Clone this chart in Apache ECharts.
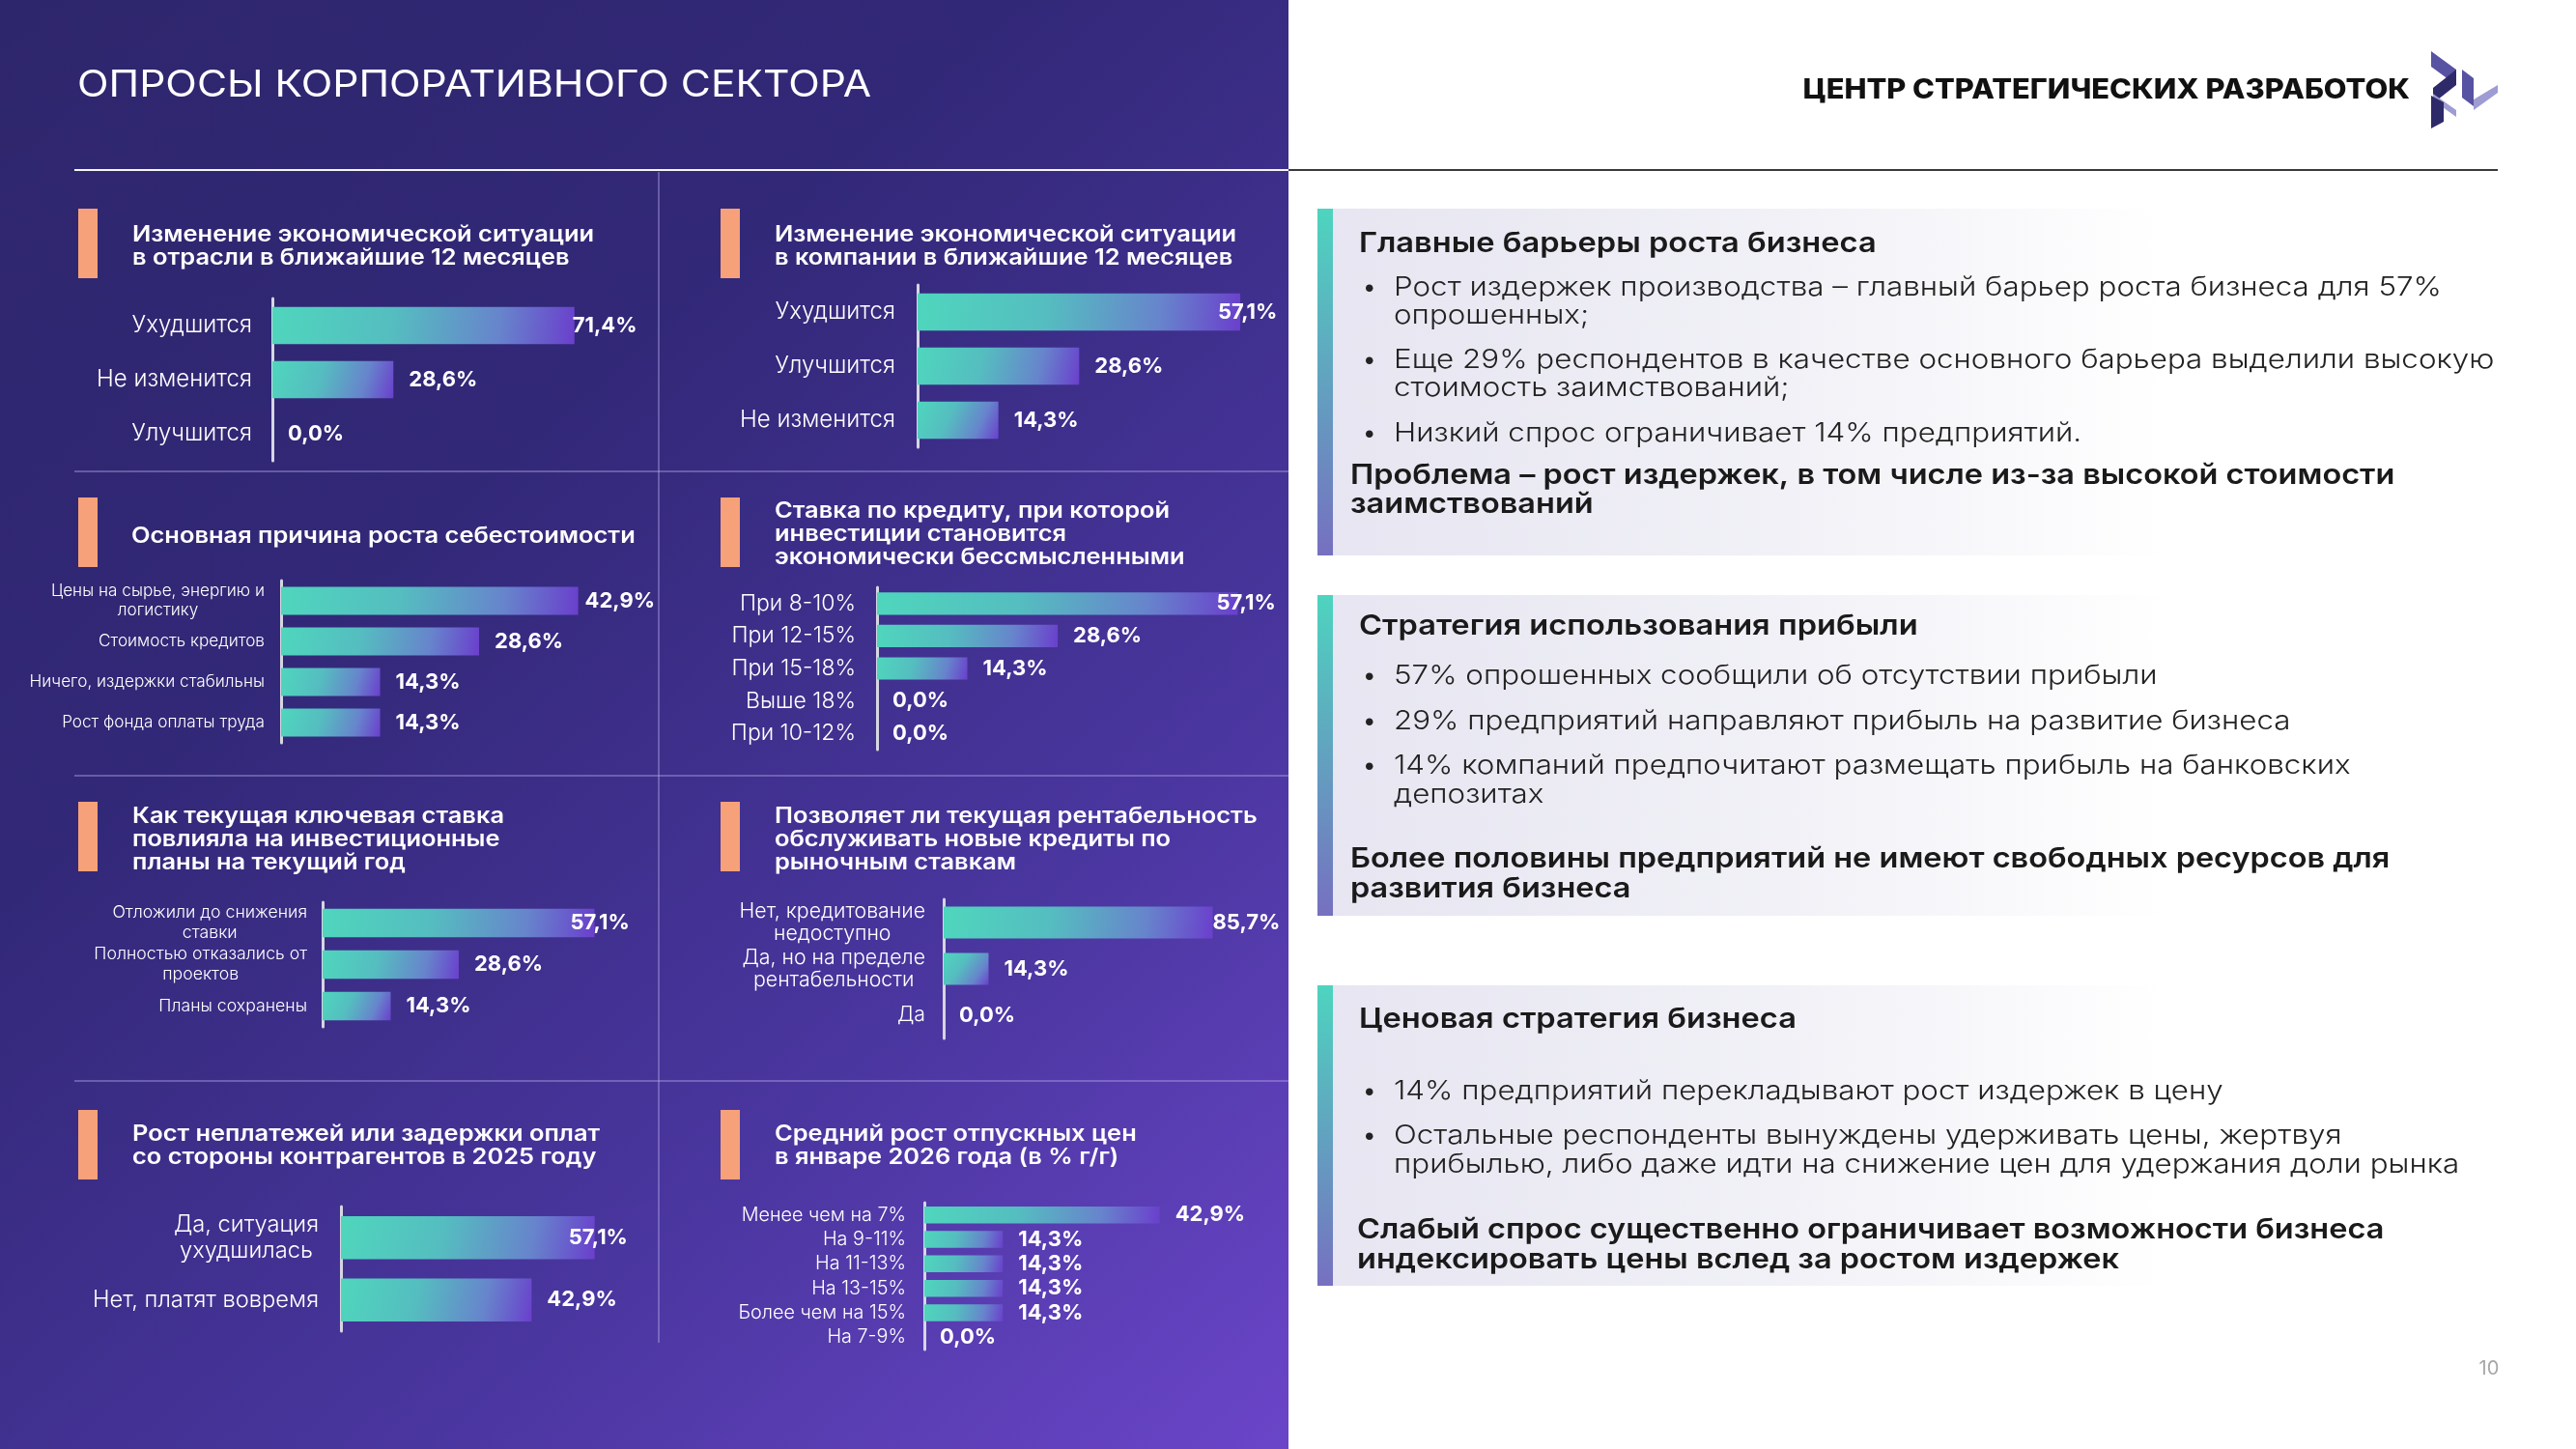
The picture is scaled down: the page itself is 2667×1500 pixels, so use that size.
<!DOCTYPE html>
<html><head><meta charset="utf-8">
<script src="https://cdn.jsdelivr.net/npm/echarts@6/dist/echarts.min.js"></script>
<style>html,body{margin:0;padding:0;background:#fff}#c{width:2667px;height:1500px}</style>
</head><body><div id="c"></div>
<script>
// ---------------- DATA ----------------
const pageTitle = 'ОПРОСЫ КОРПОРАТИВНОГО СЕКТОРА';
const brandName = 'ЦЕНТР СТРАТЕГИЧЕСКИХ РАЗРАБОТОК';
const pageNumber = '10';

const chart1Title = ['Изменение экономической ситуации', 'в отрасли в ближайшие 12 месяцев'];
const chart1Cats = ['Ухудшится', 'Не изменится', 'Улучшится'];
const chart1Vals = [71.4, 28.6, 0.0];

const chart2Title = ['Изменение экономической ситуации', 'в компании в ближайшие 12 месяцев'];
const chart2Cats = ['Ухудшится', 'Улучшится', 'Не изменится'];
const chart2Vals = [57.1, 28.6, 14.3];

const chart3Title = ['Основная причина роста себестоимости'];
const chart3Cats = ['Цены на сырье, энергию и\nлогистику', 'Стоимость кредитов', 'Ничего, издержки стабильны', 'Рост фонда оплаты труда'];
const chart3Vals = [42.9, 28.6, 14.3, 14.3];

const chart4Title = ['Ставка по кредиту, при которой', 'инвестиции становится', 'экономически бессмысленными'];
const chart4Cats = ['При 8-10%', 'При 12-15%', 'При 15-18%', 'Выше 18%', 'При 10-12%'];
const chart4Vals = [57.1, 28.6, 14.3, 0.0, 0.0];

const chart5Title = ['Как текущая ключевая ставка', 'повлияла на инвестиционные', 'планы на текущий год'];
const chart5Cats = ['Отложили до снижения\nставки', 'Полностью отказались от\nпроектов', 'Планы сохранены'];
const chart5Vals = [57.1, 28.6, 14.3];

const chart6Title = ['Позволяет ли текущая рентабельность', 'обслуживать новые кредиты по', 'рыночным ставкам'];
const chart6Cats = ['Нет, кредитование\nнедоступно', 'Да, но на пределе\nрентабельности', 'Да'];
const chart6Vals = [85.7, 14.3, 0.0];

const chart7Title = ['Рост неплатежей или задержки оплат', 'со стороны контрагентов в 2025 году'];
const chart7Cats = ['Да, ситуация\nухудшилась', 'Нет, платят вовремя'];
const chart7Vals = [57.1, 42.9];

const chart8Title = ['Средний рост отпускных цен', 'в январе 2026 года (в % г/г)'];
const chart8Cats = ['Менее чем на 7%', 'На 9-11%', 'На 11-13%', 'На 13-15%', 'Более чем на 15%', 'На 7-9%'];
const chart8Vals = [42.9, 14.3, 14.3, 14.3, 14.3, 0.0];

const box1Heading = 'Главные барьеры роста бизнеса';
const box1Bullets = [
  ['Рост издержек производства – главный барьер роста бизнеса для 57%', 'опрошенных;'],
  ['Еще 29% респондентов в качестве основного барьера выделили высокую', 'стоимость заимствований;'],
  ['Низкий спрос ограничивает 14% предприятий.']
];
const box1Conclusion = ['Проблема – рост издержек, в том числе из-за высокой стоимости', 'заимствований'];

const box2Heading = 'Стратегия использования прибыли';
const box2Bullets = [
  ['57% опрошенных сообщили об отсутствии прибыли'],
  ['29% предприятий направляют прибыль на развитие бизнеса'],
  ['14% компаний предпочитают размещать прибыль на банковских', 'депозитах']
];
const box2Conclusion = ['Более половины предприятий не имеют свободных ресурсов для', 'развития бизнеса'];

const box3Heading = 'Ценовая стратегия бизнеса';
const box3Bullets = [
  ['14% предприятий перекладывают рост издержек в цену'],
  ['Остальные респонденты вынуждены удерживать цены, жертвуя', 'прибылью, либо даже идти на снижение цен для удержания доли рынка']
];
const box3Conclusion = ['Слабый спрос существенно ограничивает возможности бизнеса', 'индексировать цены вслед за ростом издержек'];

// ---------------- LAYOUT / STYLE ----------------
const FONT = 'Inter, "Noto Sans", sans-serif';
const charts = [
  {t: chart1Title, c: chart1Cats, v: chart1Vals, grid: [282, 309, 438, 168], lf: 24, lh: 28, m: 21, shift: -18, tx: 137, ty: [243, 267], ay: 216, ax: 81},
  {t: chart2Title, c: chart2Cats, v: chart2Vals, grid: [950, 295, 585, 168], lf: 24, lh: 28, m: 23, shift: -39, tx: 802, ty: [243, 267], ay: 216, ax: 746},
  {t: chart3Title, c: chart3Cats, v: chart3Vals, grid: [291, 601, 717, 168], lf: 17.2, lh: 20, m: 17, shift: -9, tx: 136, ty: [555], ay: 515, ax: 81},
  {t: chart4Title, c: chart4Cats, v: chart4Vals, grid: [908, 608, 654, 168], lf: 23, lh: 26, m: 22, shift: -38, tx: 802, ty: [529, 553, 577], ay: 515, ax: 746},
  {t: chart5Title, c: chart5Cats, v: chart5Vals, grid: [334, 934, 493, 129], lf: 17.7, lh: 21, m: 16, shift: -41, tx: 137, ty: [845, 869, 893], ay: 830, ax: 81},
  {t: chart6Title, c: chart6Cats, v: chart6Vals, grid: [977, 931, 325, 144], lf: 21.3, lh: 23, m: 19, shift: -16, tx: 802, ty: [845, 869, 893], ay: 830, ax: 746},
  {t: chart7Title, c: chart7Cats, v: chart7Vals, grid: [353, 1249, 460, 129], lf: 23.7, lh: 27, m: 23, shift: -43, tx: 137, ty: [1174, 1198], ay: 1149, ax: 81},
  {t: chart8Title, c: chart8Cats, v: chart8Vals, grid: [957, 1245, 568, 152], lf: 19.8, lh: 21, m: 19, shift: 0, tx: 802, ty: [1174, 1198], ay: 1149, ax: 746}
];

const barGrad = {type: 'linear', x: 0, y: 0, x2: 1, y2: 1, colorStops: [
  {offset: 0, color: '#4fd6bd'}, {offset: 0.4, color: '#55bdc0'}, {offset: 0.75, color: '#6784cc'}, {offset: 1, color: '#6a3fcc'}]};
const fmt = v => v.toFixed(1).replace('.', ',') + '%';

function txt(x, y, text, size, weight, color, align, sx) {
  return {type: 'text', z: 10, x: x, y: y, scaleX: sx || 1, scaleY: 1,
    style: {x: 0, y: 0, text: text, fill: color, fontSize: size, fontWeight: weight, fontFamily: FONT,
      align: align || 'left', verticalAlign: 'middle', textAlign: align || 'left', textVerticalAlign: 'middle'}};
}
function rect(x, y, w, h, fill, z) { return {type: 'rect', z: z == null ? 1 : z, shape: {x: x, y: y, width: w, height: h}, style: {fill: fill}}; }
function line(x1, y1, x2, y2, color, w) { return {type: 'line', z: 2, shape: {x1: x1, y1: y1, x2: x2, y2: y2}, style: {stroke: color, lineWidth: w}}; }
function poly(points, fill) { return {type: 'polygon', z: 5, shape: {points: points}, style: {fill: fill}}; }

const grids = [], xAxes = [], yAxes = [], series = [];
const graphics = [];

// backgrounds
graphics.push(rect(0, 0, 1334, 1500, {type: 'linear', x: 0, y: 0, x2: 1, y2: 1, colorStops: [
  {offset: 0, color: '#2e266c'}, {offset: 0.35, color: '#322878'}, {offset: 0.7, color: '#4a369f'}, {offset: 1, color: '#6a45c8'}]}, -10));
graphics.push(line(77, 176, 1334, 176, 'rgba(255,255,255,0.95)', 2));
graphics.push(line(1334, 176, 2586, 176, '#3a3a3a', 2));
graphics.push(line(682, 178, 682, 1390, 'rgba(180,170,235,0.55)', 1.5));
[488, 803, 1119].forEach(y => graphics.push(line(77, y, 1334, y, 'rgba(180,170,235,0.55)', 1.5)));
graphics.push(txt(80, 89, pageTitle, 38, 400, '#ffffff', 'left', 1.12));
graphics.push(txt(2495, 94, brandName, 28, 800, '#111111', 'right', 1.10));
graphics.push(txt(2577, 1417, pageNumber, 20, 400, '#a8a8a8', 'center'));

// logo
graphics.push(poly([[2517, 53], [2543, 72], [2543, 88], [2517, 69]], '#5852a2'));
graphics.push(poly([[2543, 72], [2543, 88], [2519, 107], [2519, 91]], '#2e2968'));
graphics.push(poly([[2549, 72], [2561, 81], [2561, 110], [2549, 101]], '#5852a2'));
graphics.push(poly([[2519, 97], [2543, 114], [2543, 121], [2519, 104]], '#9e9cd3'));
graphics.push(poly([[2561, 103], [2586, 88], [2586, 96], [2561, 114]], '#9e9cd3'));
graphics.push(poly([[2517, 99], [2530, 106], [2530, 126], [2517, 133]], '#2e2968'));

charts.forEach((ch, i) => {
  const g = ch.grid;
  grids.push({left: g[0], top: g[1], width: g[2], height: g[3], containLabel: false});
  xAxes.push({type: 'value', gridIndex: i, min: 0, max: 100, show: false, splitLine: {show: false}});
  yAxes.push({type: 'category', gridIndex: i, inverse: true, data: ch.c,
    axisLine: {show: true, lineStyle: {color: '#d6d6e2', width: 3}}, axisTick: {show: false},
    axisLabel: {margin: ch.m, formatter: v => v.split('\n').map(s => '{c|' + s + '}').join('\n'),
      rich: {c: {align: 'center', fontSize: ch.lf, lineHeight: ch.lh, color: '#ffffff', fontFamily: FONT, fontWeight: 300}}}});
  const maxIdx = ch.v.indexOf(Math.max.apply(null, ch.v));
  series.push({type: 'bar', xAxisIndex: i, yAxisIndex: i, barCategoryGap: '31%',
    itemStyle: {color: barGrad},
    label: {show: true, position: 'right', distance: 16, color: '#ffffff', fontSize: 22, fontWeight: 700, fontFamily: FONT, formatter: p => fmt(p.value)},
    data: ch.v.map((v, k) => k === maxIdx && ch.shift ? {value: v, label: {offset: [ch.shift, 0]}} : v)});
  graphics.push(rect(ch.ax, ch.ay, 20, 72, '#f6a179', 3));
  ch.t.forEach((s, k) => graphics.push(txt(ch.tx, ch.ty[k], s, 22.5, 600, '#ffffff', 'left', 1.13)));
});

// right boxes
const boxes = [
  {h: box1Heading, b: box1Bullets, cc: box1Conclusion, y0: 216, y1: 575, hy: 252, by: [[298, 327], [373, 402], [449]], cx: 1398, cy: [492, 522]},
  {h: box2Heading, b: box2Bullets, cc: box2Conclusion, y0: 616, y1: 948, hy: 648, by: [[700], [747], [793, 823]], cx: 1398, cy: [889, 920]},
  {h: box3Heading, b: box3Bullets, cc: box3Conclusion, y0: 1020, y1: 1331, hy: 1055, by: [[1130], [1176, 1206]], cx: 1405, cy: [1273, 1304]}
];
boxes.forEach(bx => {
  graphics.push(rect(1364, bx.y0, 1226, bx.y1 - bx.y0, {type: 'linear', x: 0, y: 0, x2: 1, y2: 0, colorStops: [
    {offset: 0, color: '#e6e5f1'}, {offset: 0.4, color: '#f1f1f7'}, {offset: 0.72, color: '#ffffff'}, {offset: 1, color: '#ffffff'}]}, -5));
  graphics.push(rect(1364, bx.y0, 16, bx.y1 - bx.y0, {type: 'linear', x: 0, y: 0, x2: 0, y2: 1, colorStops: [
    {offset: 0, color: '#4ed4bf'}, {offset: 1, color: '#7670c0'}]}, 1));
  graphics.push(txt(1407, bx.hy, bx.h, 29, 600, '#1a1a1a', 'left', 1.125));
  bx.b.forEach((lines, k) => {
    graphics.push(txt(1411, bx.by[k][0], '•', 24, 400, '#222222'));
    lines.forEach((s, j) => graphics.push(txt(1443, bx.by[k][j], s, 27.5, 300, '#222222', 'left', 1.14)));
  });
  bx.cc.forEach((s, j) => graphics.push(txt(bx.cx, bx.cy[j], s, 29, 600, '#1a1a1a', 'left', 1.12)));
});

const chart = echarts.init(document.getElementById('c'), null, {renderer: 'canvas'});
chart.setOption({
  backgroundColor: '#ffffff',
  animation: false,
  grid: grids, xAxis: xAxes, yAxis: yAxes, series: series,
  graphic: {elements: graphics}
});
</script></body></html>
